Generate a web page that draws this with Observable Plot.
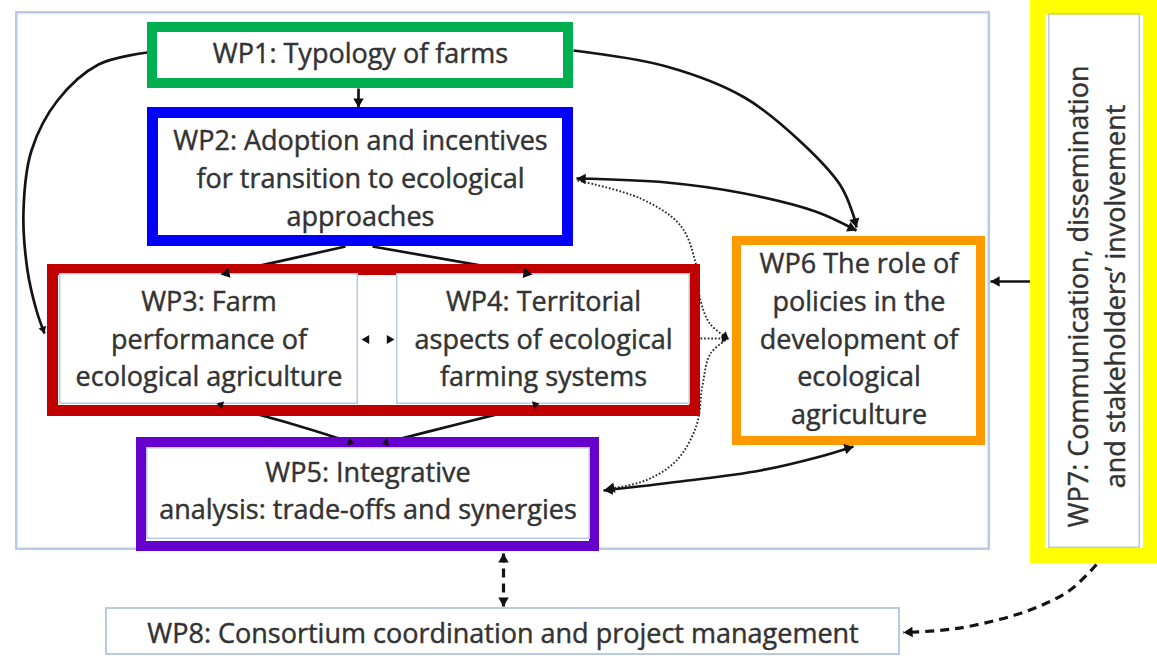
<!DOCTYPE html>
<html><head><meta charset="utf-8">
<script src="https://cdn.jsdelivr.net/npm/d3@7"></script>
<script src="https://cdn.jsdelivr.net/npm/@observablehq/plot@0.6"></script>
<style>
html,body{margin:0;padding:0;background:#fff;overflow:hidden;}
#chart svg{display:block;}
</style></head><body><div id="chart"></div>
<script>
// ---- boxes (outer edges, pixels) ----
const boxNames  = ["frame","WP1","WP2","WP3+4","WP3","WP4","WP5","WP5in","WP6","WP7","WP7in","WP8"];
const boxLeft   = [15, 147, 147,  47,  59, 396, 136, 146, 732, 1030, 1048, 105];
const boxTop    = [11,  22, 107, 264, 273, 273, 437, 447, 236,    0,   13, 607];
const boxRight  = [990, 573, 573, 700, 358, 690, 599, 590, 985, 1158, 1140, 900];
const boxBottom = [550,  88, 246, 416, 404, 404, 551, 539, 445,  563,  548, 655];

// ---- labels ----
const labelBox  = ["WP1","WP2","WP3","WP4","WP5","WP6","WP8"];
const labelText = [
  "WP1: Typology of farms",
  "WP2: Adoption and incentives\nfor transition to ecological\napproaches",
  "WP3: Farm\nperformance of\necological agriculture",
  "WP4: Territorial\naspects of ecological\nfarming systems",
  "WP5: Integrative\nanalysis: trade-offs and synergies",
  "WP6 The role of\npolicies in the\ndevelopment of\necological\nagriculture",
  "WP8: Consortium coordination and project management"
];
const labelY = [50, 175.5, 336, 336, 488, 336, 630];
const wp7Text = "WP7: Communication, dissemination\nand stakeholders’ involvement";
const wp7Pos = [1094, 296];

// ---- connections ----
const linkNames = ["WP1-WP2","WP1-WP3loop","WP1-WP6","WP2-WP6","WP2-WP6dot","WP4-WP6dot","WP6-WP5dot","WP5-WP6","WP7-WP6","WP2-WP3","WP2-WP4","WP3-WP5","WP4-WP5","WP3-WP4","WP5-WP8","WP7-WP8"];
const linkPoints = [
  [[358,88],[358,107]],
  [[147,52],[98,64],[57,100],[31,150],[23,210],[27,270],[36,310],[44,333]],
  [[573,50],[666,66],[744,97],[802,143],[840,185],[853,215],[856,227]],
  [[576,178],[666,182],[744,193],[815,211],[856,230]],
  [[577,180],[640,198],[680,225],[695,262],[700,300],[710,324],[728,338]],
  [[700,338],[728,338]],
  [[728,338],[710,353],[702,385],[696,425],[676,460],[645,480],[605,489]],
  [[603,490],[680,481],[760,470],[820,456],[853,446]],
  [[1031,281],[990,281]],
  [[345,246],[220,274]],
  [[372,246],[532,274]],
  [[216,403],[290,423],[354,443]],
  [[539,403],[460,423],[381,443]],
  [[361,339],[394,339]],
  [[503,553],[503,606]],
  [[1096,564],[1069,590],[1028,610],[973,625],[938,630],[903,632]]
];
const linkKind  = ["solid","solid","solid","solid","dot","dot","dot","solid","solid","solid","solid","solid","solid","dot","dash","dash"];
const linkHeads = ["end","end","end","both","end","end","end","both","end","end","end","both","both","both","both","end"];
const linkHeadSize = ["big","small","big","big","small","small","big","big","big","big","big","small","small","mid","big","big"];

// ---- styles ----
const boxStyle = {
  "frame": {stroke:"#b8cbe6", sw:2.5, fill:"none"},
  "WP1":   {stroke:"#00b050", sw:10, fill:"#fff"},
  "WP2":   {stroke:"#0000ff", sw:11, fill:"#fff"},
  "WP3+4": {stroke:"#c00000", sw:11, fill:"#fff"},
  "WP3":   {stroke:"#b8cbe6", sw:1.5, fill:"#fff"},
  "WP4":   {stroke:"#b8cbe6", sw:1.5, fill:"#fff"},
  "WP5":   {stroke:"#6600cc", sw:10, fill:"#fff"},
  "WP5in": {stroke:"#b8cbe6", sw:1.5, fill:"none"},
  "WP6":   {stroke:"#ff9900", sw:9, fill:"#fff"},
  "WP7":   {stroke:"#ffff00", sw:15, fill:"#fff"},
  "WP7in": {stroke:"#b8cbe6", sw:1.5, fill:"none"},
  "WP8":   {stroke:"#b8cbe6", sw:2, fill:"#fff"}
};
const lineStyle = {
  solid: {stroke:"#141414", strokeWidth:2.7},
  dot:   {stroke:"#2a2a2a", strokeWidth:1.9, strokeDasharray:"1.7,1.9"},
  dash:  {stroke:"#141414", strokeWidth:3.2, strokeDasharray:"9,6"}
};
const headR = {big:3.9, mid:3.3, small:2.9};
const FONT = "'Open Sans', 'DejaVu Sans', sans-serif";
const TEXT_COLOR = "#333";

// ---- build tables ----
const boxes = boxNames.map((name,i) => {
  const s = boxStyle[name], h = s.sw/2;
  return {name, x1: boxLeft[i]+h, x2: boxRight[i]-h, y1: boxTop[i]+h, y2: boxBottom[i]-h, ...s};
});
const boxByName = Object.fromEntries(boxes.map(b => [b.name, b]));

function head(tip, prev, r) {
  const dx = tip[0]-prev[0], dy = tip[1]-prev[1], len = Math.hypot(dx,dy);
  const ux = dx/len, uy = dy/len;
  const size = Math.PI*r*r, yy = Math.sqrt(size/(3*Math.sqrt(3)));
  return {x: tip[0]-ux*2*yy, y: tip[1]-uy*2*yy, a: Math.atan2(dx,-dy)*180/Math.PI};
}
const headGroups = {big:[], mid:[], small:[]};
linkPoints.forEach((p,i) => {
  const k = linkHeadSize[i], r = headR[k];
  if (linkHeads[i] === "end" || linkHeads[i] === "both") headGroups[k].push(head(p[p.length-1], p[p.length-2], r));
  if (linkHeads[i] === "start" || linkHeads[i] === "both") headGroups[k].push(head(p[0], p[1], r));
});

const labels = labelBox.map((b,i) => {
  const bx = boxByName[b];
  return {text: labelText[i], x: (bx.x1+bx.x2)/2, y: labelY[i]};
});

const marks = [];
marks.push(Plot.rect([boxByName["frame"]], {x1:"x1",x2:"x2",y1:"y1",y2:"y2", fill:"none", stroke: boxByName["frame"].stroke, strokeWidth: boxByName["frame"].sw}));
linkPoints.forEach((p,i) => {
  marks.push(Plot.line(p, {x: d=>d[0], y: d=>d[1], curve:"catmull-rom", fill:"none", strokeLinecap:"butt", strokeLinejoin:"round", ...lineStyle[linkKind[i]]}));
});
boxes.filter(b => b.name !== "frame").forEach(b => {
  marks.push(Plot.rect([b], {x1:"x1",x2:"x2",y1:"y1",y2:"y2", fill: b.fill, stroke: b.stroke, strokeWidth: b.sw}));
});
Object.entries(headGroups).forEach(([k, arr]) => {
  marks.push(Plot.dot(arr, {x:"x", y:"y", rotate:"a", symbol:"triangle", r: headR[k], fill:"#111", stroke:"none"}));
});
const textOpts = {fontSize:27, fontFamily: FONT, lineHeight:1.39, fill: TEXT_COLOR, stroke: TEXT_COLOR, strokeWidth: 0.45, textAnchor:"middle"};
marks.push(Plot.text(labels, {x:"x", y:"y", text:"text", ...textOpts}));
marks.push(Plot.text([{text: wp7Text, x: wp7Pos[0], y: wp7Pos[1]}], {x:"x", y:"y", text:"text", rotate:-90, ...textOpts}));

const chart = Plot.plot({
  width: 1157, height: 668,
  margin: 0, marginTop:0, marginRight:0, marginBottom:0, marginLeft:0,
  x: {type:"linear", domain:[0,1157], range:[0,1157], axis:null},
  y: {type:"linear", domain:[0,668], range:[0,668], axis:null},
  style: {background:"#fff", fontFamily: FONT},
  marks
});
document.getElementById("chart").appendChild(chart);
</script>
</body></html>
